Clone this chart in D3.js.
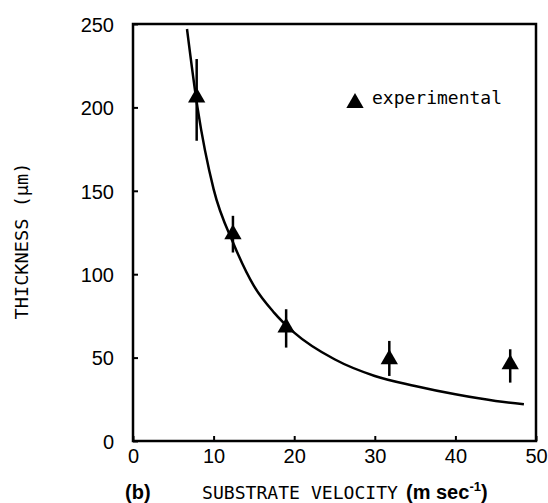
<!DOCTYPE html>
<html>
<head>
<meta charset="utf-8">
<script src="https://cdn.jsdelivr.net/npm/d3@7"></script>
<style>
  body { margin: 0; background: #fff; }
  svg { display: block; }
</style>
</head>
<body>
<div id="chart"></div>
<script>
// measured points (substrate velocity, thickness, error bar low/high)
var velocity = [7.9, 12.4, 19.0, 31.8, 46.8];
var thickness = [206, 124, 68, 49, 46];
var errLow = [180, 113, 56, 39, 35];
var errHigh = [229, 135, 79, 60, 55];

// fitted curve
var curveV = [6.7, 8, 10, 12.5, 15, 17.5, 20, 25, 30, 35, 40, 45, 48.5];
var curveT = [247, 200, 151, 118, 93, 77, 65, 49, 39, 33, 28, 24, 22];

var xTicks = [0, 10, 20, 30, 40, 50];
var yTicks = [0, 50, 100, 150, 200, 250];

var W = 548, H = 503;
var frame = { left: 133, right: 536, top: 24, bottom: 441 };
var mono = "'DejaVu Sans Mono', 'Liberation Mono', monospace";
var sans = "'Liberation Sans Narrow', 'Liberation Sans', Arial, sans-serif";

var svg = d3.select("#chart").append("svg")
    .attr("width", W)
    .attr("height", H);

var x = d3.scaleLinear().domain([0, 50]).range([frame.left, frame.right]);
var y = d3.scaleLinear().domain([0, 250]).range([frame.bottom, frame.top]);

// frame
svg.append("rect")
    .attr("x", frame.left)
    .attr("y", frame.top)
    .attr("width", frame.right - frame.left)
    .attr("height", frame.bottom - frame.top)
    .attr("fill", "none")
    .attr("stroke", "#000")
    .attr("stroke-width", 2.5);

// axes, ticks pointing inward
var yAxis = d3.axisLeft(y).tickValues(yTicks).tickSize(-5).tickPadding(19);
var xAxis = d3.axisBottom(x).tickValues(xTicks).tickSize(-5).tickPadding(18);

var gy = svg.append("g")
    .attr("transform", "translate(" + frame.left + ",0)")
    .call(yAxis);
var gx = svg.append("g")
    .attr("transform", "translate(0," + frame.bottom + ")")
    .call(xAxis);

[gx, gy].forEach(function(g){
    g.select(".domain").remove();
    g.selectAll(".tick line").attr("stroke", "#000").attr("stroke-width", 2);
    g.selectAll(".tick text")
        .attr("fill", "#000")
        .style("font-family", sans)
        .style("font-size", "20px");
});
gy.selectAll(".tick text").attr("dy", "0.36em");
gx.selectAll(".tick text").attr("dy", "0.2em");

// fitted curve
var line = d3.line()
    .x(function(d, i){ return x(curveV[i]); })
    .y(function(d, i){ return y(curveT[i]); })
    .curve(d3.curveMonotoneX);

svg.append("path")
    .datum(curveV)
    .attr("d", line)
    .attr("fill", "none")
    .attr("stroke", "#000")
    .attr("stroke-width", 2.5);

// error bars
svg.append("g").selectAll("line")
    .data(velocity)
    .enter().append("line")
    .attr("x1", function(d){ return x(d); })
    .attr("x2", function(d){ return x(d); })
    .attr("y1", function(d, i){ return y(errLow[i]); })
    .attr("y2", function(d, i){ return y(errHigh[i]); })
    .attr("stroke", "#000")
    .attr("stroke-width", 2.5);

// triangles
var tri = d3.symbol().type(d3.symbolTriangle).size(130);
svg.append("g").selectAll("path")
    .data(velocity)
    .enter().append("path")
    .attr("d", tri)
    .attr("transform", function(d, i){ return "translate(" + x(d) + "," + y(thickness[i]) + ")"; })
    .attr("fill", "#000");

// legend
svg.append("path")
    .attr("d", tri)
    .attr("transform", "translate(355,103)")
    .attr("fill", "#000");
svg.append("text")
    .attr("x", 372)
    .attr("y", 104)
    .attr("textLength", 130)
    .attr("lengthAdjust", "spacingAndGlyphs")
    .style("font-family", mono)
    .style("font-size", "17px")
    .text("experimental");

// axis titles
svg.append("text")
    .attr("x", 125)
    .attr("y", 499)
    .style("font-family", sans)
    .style("font-weight", "bold")
    .style("font-size", "20px")
    .text("(b)");

var xt = svg.append("text")
    .attr("x", 202)
    .attr("y", 499)
    .style("font-family", mono)
    .style("font-size", "18px");
xt.append("tspan")
    .attr("textLength", 196)
    .attr("lengthAdjust", "spacingAndGlyphs")
    .text("SUBSTRATE VELOCITY");
xt.append("tspan")
    .attr("dx", 8)
    .style("font-family", sans)
    .style("font-weight", "bold")
    .style("font-size", "20px")
    .text("(m sec");
xt.append("tspan")
    .attr("dy", -8)
    .style("font-family", sans)
    .style("font-weight", "bold")
    .style("font-size", "13px")
    .text("-1");
xt.append("tspan")
    .attr("dy", 8)
    .style("font-family", sans)
    .style("font-weight", "bold")
    .style("font-size", "20px")
    .text(")");

svg.append("text")
    .attr("transform", "translate(28,241) rotate(-90)")
    .attr("text-anchor", "middle")
    .attr("textLength", 157)
    .attr("lengthAdjust", "spacingAndGlyphs")
    .style("font-family", mono)
    .style("font-size", "18px")
    .text("THICKNESS (μm)");
</script>
</body>
</html>
